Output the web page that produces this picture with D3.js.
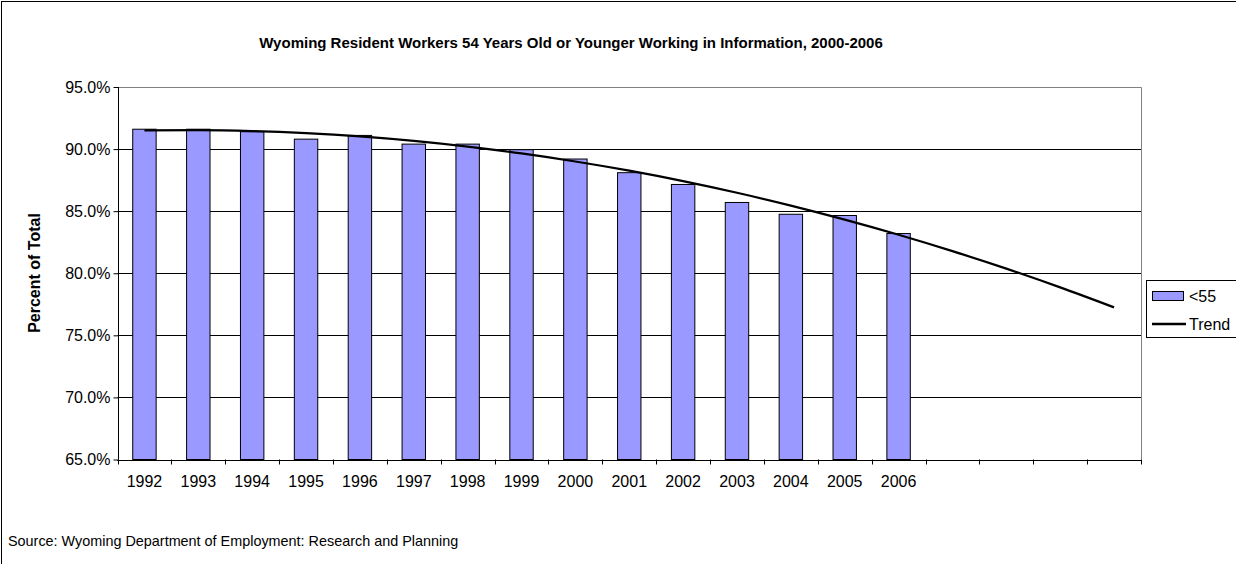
<!DOCTYPE html>
<html lang='en'>
<head>
<meta charset="utf-8">
<script src="https://d3js.org/d3.v7.min.js"></script>
<style>
  body { margin:0; background:#fff; }
  text { font-family: Arial, "Liberation Sans", sans-serif; }
</style>
</head>
<body>
<svg id="chart" width="1236" height="564"></svg>
<script>

// categories (last four are blank forecast periods of the trend line)
var years = ["1992","1993","1994","1995","1996","1997","1998","1999","2000",
             "2001","2002","2003","2004","2005","2006","","","",""];

// share of workers younger than 55, percent
var under55 = [91.6, 91.6, 91.4, 90.8, 91.1, 90.4, 90.4, 89.95, 89.2,
               88.1, 87.15, 85.7, 84.75, 84.65, 83.2];

// trend line, one value per category
var trend = [91.50, 91.52, 91.45, 91.28, 91.02, 90.66, 90.20, 89.65, 89.00,
             88.26, 87.42, 86.48, 85.45, 84.32, 83.10, 81.78, 80.37, 78.86, 77.25];

var yTicks = [65, 70, 75, 80, 85, 90, 95];

var svg = d3.select("#chart");

var pLeft = 117.5, pRight = 1141, pTop = 87, pBottom = 459.5;

var x = d3.scaleBand()
  .domain(d3.range(years.length))
  .range([pLeft, pRight])
  .paddingInner(0).paddingOuter(0);

var y = d3.scaleLinear()
  .domain([65, 95])
  .range([pBottom, pTop]);

// outer chart border
svg.append("rect")
  .attr("x", 1.5).attr("y", 1.5)
  .attr("width", 1300).attr("height", 600)
  .attr("fill", "none").attr("stroke", "#000");

// title
svg.append("text")
  .attr("x", 571).attr("y", 48)
  .attr("text-anchor", "middle")
  .attr("font-size", "15px").attr("font-weight", "bold")
  .text("Wyoming Resident Workers 54 Years Old or Younger Working in Information, 2000-2006");

// gridlines
svg.append("g").selectAll("line")
  .data(yTicks)
  .enter().append("line")
  .attr("x1", pLeft).attr("x2", pRight)
  .attr("y1", function(d){ return Math.round(y(d)) + 0.5; })
  .attr("y2", function(d){ return Math.round(y(d)) + 0.5; })
  .attr("stroke", "#000").attr("stroke-width", 1);

// plot border (right & top in gray)
svg.append("path")
  .attr("d", "M" + pLeft + "," + (pTop + 0.5) + "H" + (pRight + 0.5) + "V" + pBottom)
  .attr("fill", "none").attr("stroke", "#808080");

// bars
var bw = x.bandwidth() / 2.3;
svg.append("g").selectAll("rect")
  .data(under55)
  .enter().append("rect")
  .attr("x", function(d, i){ return x(i) + (x.bandwidth() - bw) / 2; })
  .attr("y", function(d){ return y(d); })
  .attr("width", bw)
  .attr("height", function(d){ return y(65) - y(d); })
  .attr("fill", "#9999FF")
  .attr("stroke", "#000").attr("stroke-width", 1);

// trend line
var line = d3.line()
  .x(function(d, i){ return x(i) + x.bandwidth() / 2; })
  .y(function(d){ return y(d); })
  .curve(d3.curveMonotoneX);

svg.append("path")
  .datum(trend)
  .attr("d", line)
  .attr("fill", "none")
  .attr("stroke", "#000").attr("stroke-width", 2.2);

// axes
var xAxis = d3.axisBottom(x)
  .tickFormat(function(i){ return years[i]; })
  .tickSize(0).tickPadding(16);
var gx = svg.append("g")
  .attr("transform", "translate(0," + pBottom + ")")
  .call(xAxis);
gx.select(".domain").remove();
gx.selectAll("text").attr("font-size", "16px").attr("font-family", "Arial, 'Liberation Sans', sans-serif").attr("fill", "#000");

// x tick marks at category boundaries
var bounds = d3.range(years.length + 1).map(function(i){ return pLeft + i * x.bandwidth(); });
svg.append("g").selectAll("line")
  .data(bounds)
  .enter().append("line")
  .attr("x1", function(d){ return Math.round(d) + 0.5; })
  .attr("x2", function(d){ return Math.round(d) + 0.5; })
  .attr("y1", pBottom).attr("y2", pBottom + 5)
  .attr("stroke", "#000");

svg.append("line")
  .attr("x1", pLeft).attr("x2", pRight + 0.5)
  .attr("y1", Math.round(pBottom) + 0.5).attr("y2", Math.round(pBottom) + 0.5)
  .attr("stroke", "#000");

var yAxis = d3.axisLeft(y)
  .tickValues(yTicks)
  .tickFormat(function(d){ return d.toFixed(1) + "%"; })
  .tickSize(5).tickPadding(3);
var gy = svg.append("g")
  .attr("transform", "translate(" + (Math.round(pLeft) + 0.5) + ",0)")
  .call(yAxis);
gy.select(".domain").attr("d", "M0," + pTop + "V" + pBottom).attr("stroke", "#000");
gy.selectAll("line").attr("stroke", "#000");
gy.selectAll("text").attr("font-size", "16px").attr("font-family", "Arial, 'Liberation Sans', sans-serif").attr("fill", "#000");

// y axis title
svg.append("text")
  .attr("transform", "translate(40,273) rotate(-90)")
  .attr("text-anchor", "middle")
  .attr("font-size", "16px").attr("font-weight", "bold")
  .text("Percent of Total");

// legend
var lg = svg.append("g");
lg.append("rect")
  .attr("x", 1146.5).attr("y", 280.5)
  .attr("width", 120).attr("height", 57)
  .attr("fill", "#fff").attr("stroke", "#000");
lg.append("rect")
  .attr("x", 1152.5).attr("y", 291.5)
  .attr("width", 31).attr("height", 9)
  .attr("fill", "#9999FF").attr("stroke", "#000");
lg.append("text")
  .attr("x", 1189).attr("y", 302)
  .attr("font-size", "16px").text("<55");
lg.append("line")
  .attr("x1", 1152).attr("x2", 1186)
  .attr("y1", 324).attr("y2", 324)
  .attr("stroke", "#000").attr("stroke-width", 2.5);
lg.append("text")
  .attr("x", 1189).attr("y", 330)
  .attr("font-size", "16px").text("Trend");

// source note
svg.append("text")
  .attr("x", 8).attr("y", 546)
  .attr("font-size", "14.4px")
  .text("Source: Wyoming Department of Employment: Research and Planning");

</script>
</body>
</html>
